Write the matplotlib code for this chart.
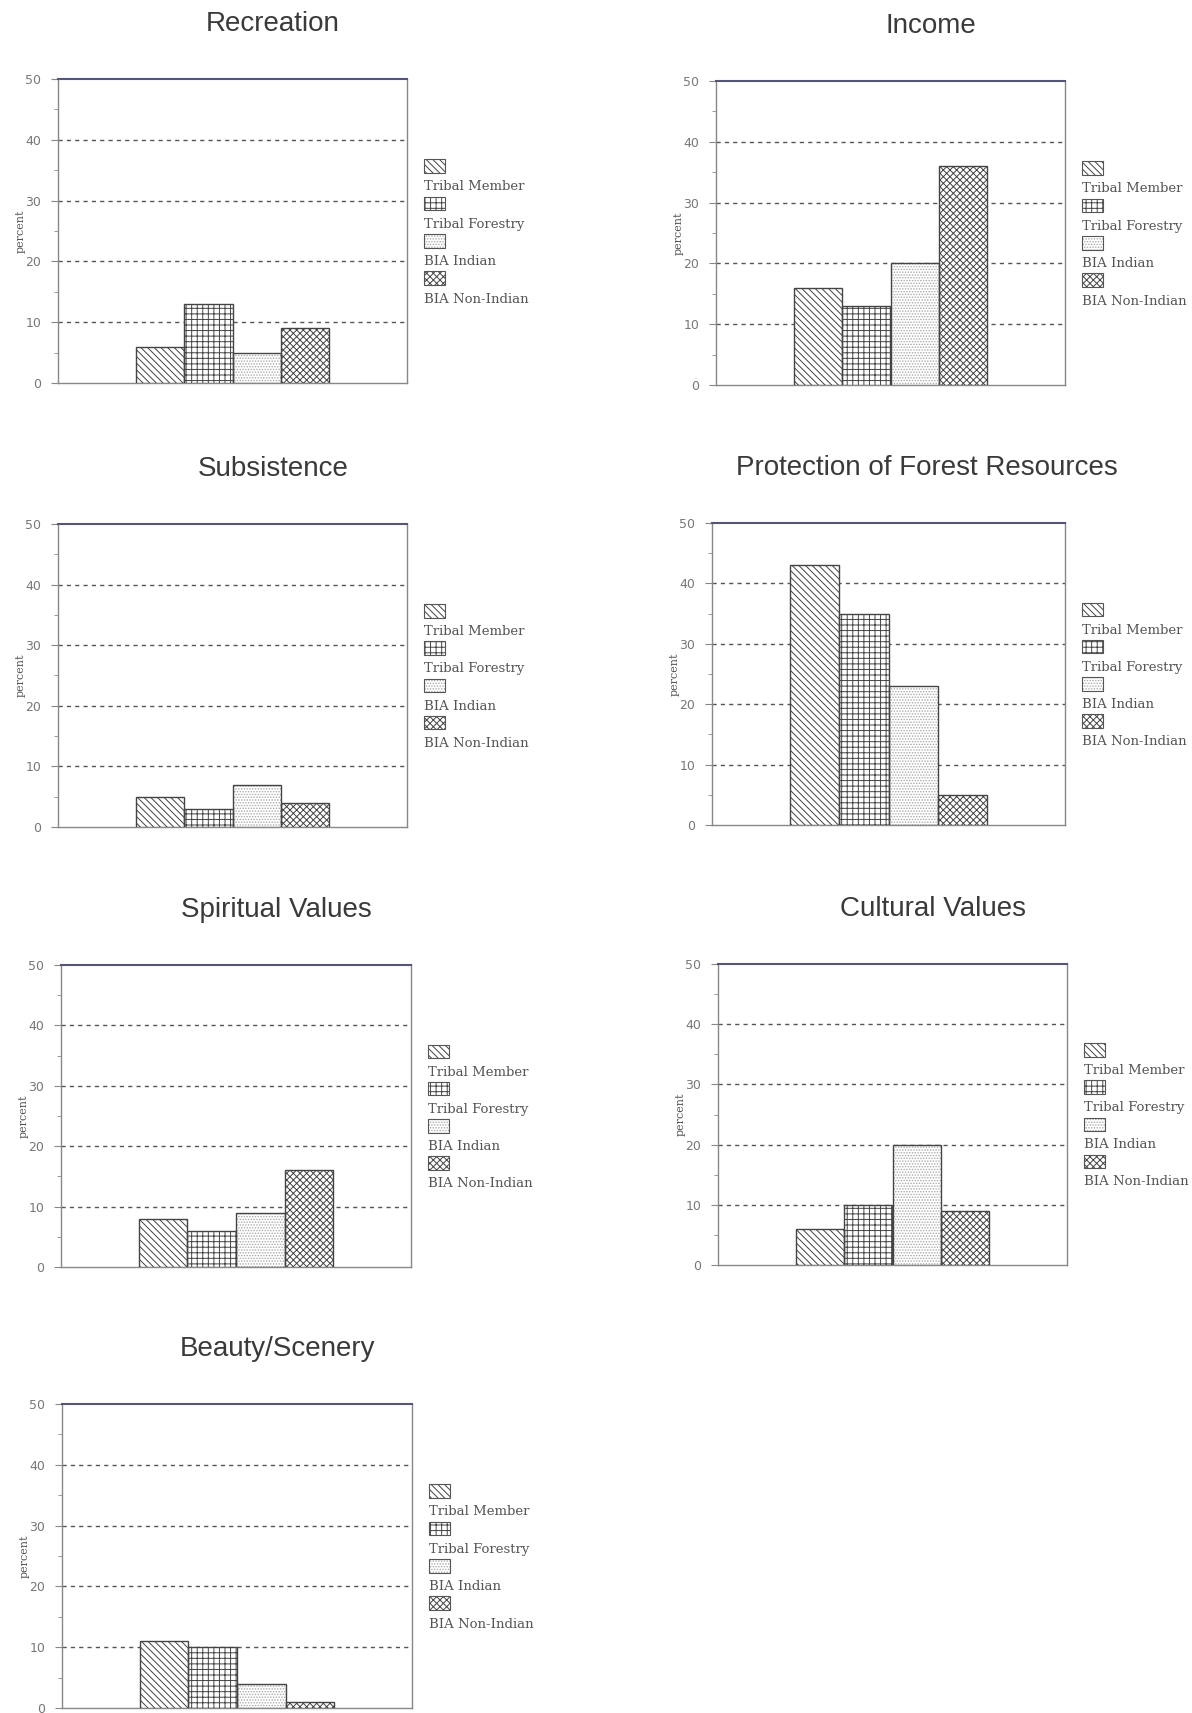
import matplotlib
matplotlib.use("Agg")
import matplotlib.pyplot as plt
from matplotlib.patches import Rectangle

# ---- data ----
groups = ["Tribal Member", "Tribal Forestry", "BIA Indian", "BIA Non-Indian"]
titles = ["Recreation", "Income", "Subsistence", "Protection of Forest Resources",
          "Spiritual Values", "Cultural Values", "Beauty/Scenery"]
recreation = [6, 13, 5, 9]
income = [16, 13, 20, 36]
subsistence = [5, 3, 7, 4]
protection = [43, 35, 23, 5]
spiritual = [8, 6, 9, 16]
cultural = [6, 10, 20, 9]
beauty = [11, 10, 4, 1]
panel_values = [recreation, income, subsistence, protection, spiritual, cultural, beauty]
y_ticks = [0, 10, 20, 30, 40, 50]

# ---- styles ----
hatches = ["\\\\\\\\\\", "+++", "......", "xxxxx"]
hatch_cols = ["#444444", "#444444", "#aaaaaa", "#444444"]
W, H = 1192, 1713
# axes boxes in pixels: left, top, right, bottom
boxes = [
    (58, 79, 407, 383),
    (716, 81, 1065, 385),
    (58, 524, 407, 827),
    (712, 523, 1065, 825),
    (61, 965, 411, 1267),
    (718, 964, 1067, 1265),
    (62, 1404, 412, 1708),
]

plt.rcParams['hatch.linewidth'] = 0.7
fig = plt.figure(figsize=(W / 100, H / 100), dpi=100)
fig.patch.set_facecolor("white")

gray = "#777777"
for vals, title, (l, t, r, b) in zip(panel_values, titles, boxes):
    ax = fig.add_axes([l / W, 1 - b / H, (r - l) / W, (b - t) / H])
    x = range(len(vals))
    for xi, v, h, hc in zip(x, vals, hatches, hatch_cols):
        ax.bar(xi, v, width=1.0, color="white", edgecolor=hc,
               hatch=h, linewidth=0, zorder=3)
        ax.bar(xi, v, width=1.0, fill=False, edgecolor="#444444",
               linewidth=1.0, zorder=4)
    ax.set_xlim(-2.1, 5.1)
    ax.set_ylim(0, 50)
    ax.set_yticks(y_ticks)
    ax.set_yticks([5, 15, 25, 35, 45], minor=True)
    ax.set_xticks([])
    for yv in y_ticks[1:-1]:
        ax.axhline(yv, color="#555555", linestyle=(0, (3, 3)), linewidth=1.0, zorder=1)
    for s in ax.spines.values():
        s.set_color("#888888")
        s.set_linewidth(1.0)
    ax.spines['top'].set_color("#555577")
    ax.spines['top'].set_linewidth(1.5)
    ax.tick_params(axis='y', which='major', direction='out', length=5,
                   color="#888888", labelcolor=gray, labelsize=9, pad=7)
    ax.tick_params(axis='y', which='minor', direction='out', length=3, color="#888888")
    for lab in ax.get_yticklabels():
        lab.set_family("DejaVu Sans")
    ax.set_ylabel("percent", family="DejaVu Serif", fontsize=8, color="#555555", labelpad=0)
    fig.text((l + 215) / W, 1 - (t - 55) / H, title, family="Liberation Sans",
             fontsize=20, color="#3a3a3a", ha="center", va="center")

    # legend: swatch above label
    sw_h = 0.045
    for i, (g, h, hc) in enumerate(zip(groups, hatches, hatch_cols)):
        ytop = 0.736 - i * 0.123
        rect = Rectangle((1.049, ytop - sw_h), 0.06, sw_h, transform=ax.transAxes,
                         facecolor="white", edgecolor=hc, hatch=h,
                         linewidth=0, clip_on=False)
        ax.add_patch(rect)
        ax.add_patch(Rectangle((1.049, ytop - sw_h), 0.06, sw_h, transform=ax.transAxes,
                               fill=False, edgecolor="#555555", linewidth=0.8,
                               clip_on=False))
        ax.text(1.049, ytop - 0.091, g, transform=ax.transAxes, ha="left", va="center",
                family="DejaVu Serif", fontsize=9.5, color="#555555")

fig.savefig("out.png", dpi=100, facecolor="white")
